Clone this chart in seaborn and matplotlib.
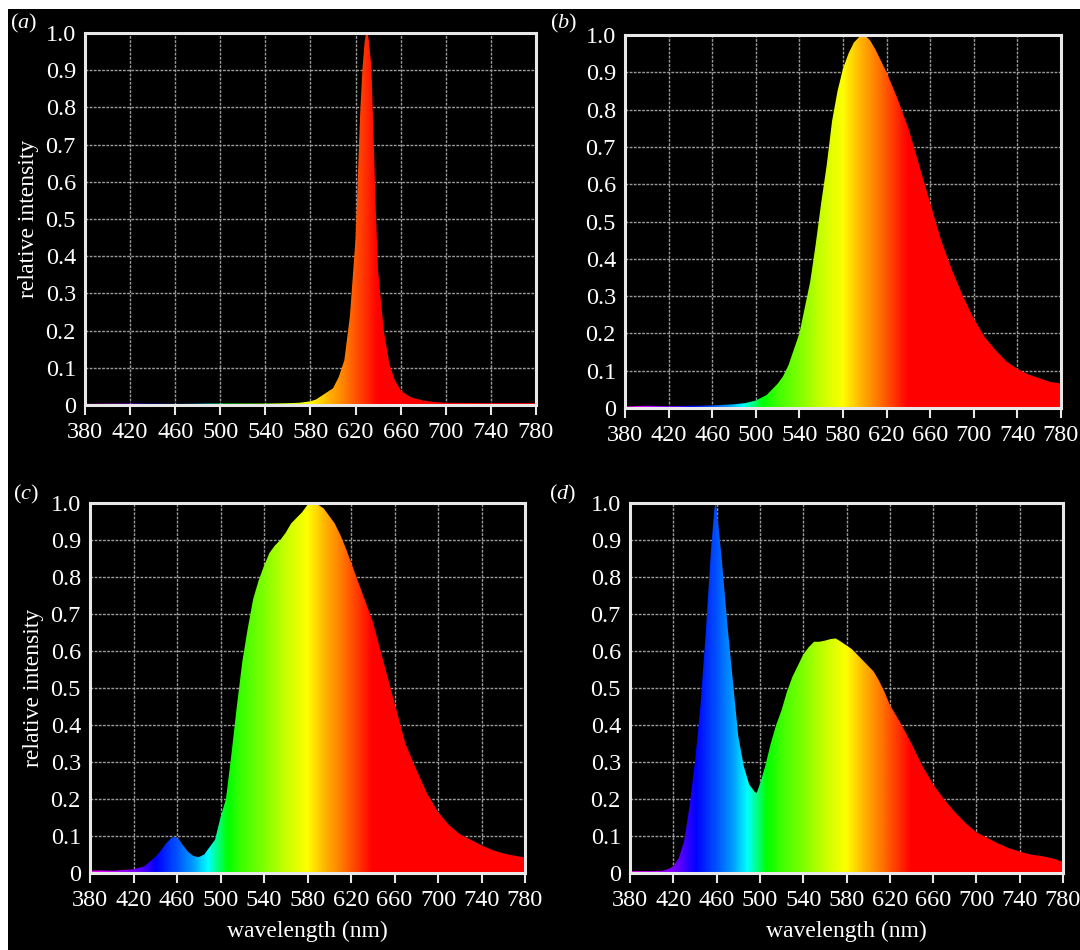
import numpy as np
import matplotlib.pyplot as plt
import seaborn as sns
from matplotlib.colors import LinearSegmentedColormap
from matplotlib.patches import Rectangle
from matplotlib.ticker import FuncFormatter

# (a) red LED
wl_a = [380, 420, 460, 500, 540, 560, 570, 580, 585, 590, 595, 600, 605, 610, 615, 620, 624, 626,
        628, 629, 630, 631, 632, 634, 636, 638, 640, 645, 650, 655, 660, 665, 670, 680, 690, 700,
        740, 780]
int_a = [0.003, 0.004, 0.003, 0.004, 0.004, 0.005, 0.006, 0.01, 0.015, 0.025, 0.035, 0.045, 0.075,
         0.12, 0.24, 0.45, 0.78, 0.9, 0.975, 0.995, 1.0, 0.995, 0.975, 0.91, 0.72, 0.52, 0.36,
         0.2, 0.11, 0.065, 0.04, 0.028, 0.02, 0.012, 0.008, 0.006, 0.005, 0.005]

# (b) amber / warm
wl_b = [380, 400, 420, 440, 460, 480, 490, 500, 510, 520, 525, 530, 540, 550, 555, 560, 565, 570,
        575, 580, 585, 590, 595, 600, 605, 610, 615, 620, 630, 640, 650, 660, 670, 680, 690, 700,
        710, 720, 730, 740, 750, 760, 770, 780]
int_b = [0.004, 0.006, 0.005, 0.006, 0.007, 0.01, 0.013, 0.02, 0.035, 0.065, 0.085, 0.115, 0.2,
         0.34, 0.44, 0.55, 0.65, 0.77, 0.85, 0.91, 0.95, 0.98, 0.995, 1.0, 0.985, 0.96, 0.93, 0.9,
         0.83, 0.75, 0.65, 0.55, 0.45, 0.37, 0.3, 0.24, 0.19, 0.155, 0.125, 0.105, 0.09, 0.08,
         0.07, 0.066]

# (c) warm white
wl_c = [380, 390, 400, 410, 420, 430, 440, 445, 450, 455, 458, 462, 465, 470, 475, 480, 485, 490,
        495, 500, 505, 510, 515, 520, 525, 530, 535, 540, 545, 550, 555, 560, 565, 570, 575, 580,
        585, 590, 595, 600, 605, 610, 615, 620, 625, 630, 640, 650, 660, 670, 680, 690, 700, 710,
        720, 730, 740, 750, 760, 770, 780]
int_c = [0.006, 0.007, 0.006, 0.008, 0.01, 0.018, 0.043, 0.06, 0.08, 0.095, 0.098, 0.09, 0.077,
         0.058, 0.046, 0.043, 0.05, 0.07, 0.09, 0.15, 0.2, 0.32, 0.45, 0.57, 0.66, 0.74, 0.79,
         0.83, 0.865, 0.885, 0.9, 0.92, 0.945, 0.96, 0.975, 0.995, 1.0, 0.995, 0.985, 0.965,
         0.945, 0.915, 0.88, 0.84, 0.8, 0.76, 0.68, 0.57, 0.46, 0.35, 0.28, 0.215, 0.165, 0.13,
         0.105, 0.09, 0.075, 0.062, 0.053, 0.047, 0.042]

# (d) cool white
wl_d = [380, 390, 400, 410, 415, 420, 425, 430, 435, 440, 445, 450, 455, 458, 459, 460, 462, 465,
        470, 475, 480, 485, 490, 495, 497, 500, 505, 510, 515, 520, 525, 530, 535, 540, 545, 550,
        555, 560, 565, 570, 575, 580, 585, 590, 595, 600, 605, 610, 615, 620, 630, 640, 650, 660,
        670, 680, 690, 700, 710, 720, 730, 740, 750, 760, 770, 780]
int_d = [0.005, 0.005, 0.005, 0.006, 0.01, 0.018, 0.04, 0.085, 0.18, 0.3, 0.45, 0.65, 0.88, 0.985,
         1.0, 0.985, 0.93, 0.84, 0.67, 0.52, 0.37, 0.29, 0.24, 0.22, 0.216, 0.24, 0.29, 0.35, 0.4,
         0.44, 0.49, 0.53, 0.56, 0.59, 0.61, 0.625, 0.625, 0.628, 0.632, 0.634, 0.625, 0.615,
         0.605, 0.59, 0.575, 0.56, 0.545, 0.52, 0.49, 0.455, 0.405, 0.35, 0.29, 0.24, 0.2, 0.165,
         0.135, 0.11, 0.095, 0.08, 0.067, 0.058, 0.05, 0.046, 0.04, 0.03]

panels = [("a", wl_a, int_a), ("b", wl_b, int_b), ("c", wl_c, int_c), ("d", wl_d, int_d)]
wl_ticks = list(range(380, 781, 40))
int_ticks = [round(0.1 * k, 1) for k in range(11)]

# wavelength -> colour stops
stop_wl = [380, 405, 425, 440, 460, 475, 488, 496, 506, 520, 540, 560, 580, 590, 600, 610, 620, 630, 640, 780]
stop_col = ["#ff00ff", "#b000ff", "#6000ff", "#0000ff", "#0055ff", "#00a0ff", "#00ffff", "#00ff90",
            "#00ff00", "#40ff00", "#80ff00", "#c8ff00", "#ffff00", "#ffd000", "#ffa500", "#ff8000",
            "#ff5500", "#ff2a00", "#ff0000", "#ff0000"]
spec = LinearSegmentedColormap.from_list(
    "spec", [((w - 380) / 400, c) for w, c in zip(stop_wl, stop_col)])

sns.set_theme(style="dark", rc={"axes.facecolor": "black", "figure.facecolor": "white"})
plt.rcParams["font.family"] = ["Liberation Serif", "DejaVu Serif"]
plt.rcParams["mathtext.fontset"] = "custom"
plt.rcParams["mathtext.it"] = "Liberation Serif:italic"
plt.rcParams["mathtext.rm"] = "Liberation Serif"

W, H = 1080, 950
fig = plt.figure(figsize=(W / 100, H / 100), dpi=100, facecolor="white")
fig.add_artist(Rectangle((8 / W, 0), 1, 1 - 9 / H, transform=fig.transFigure,
                         facecolor="black", edgecolor="none", zorder=-10))

# axes boxes in pixels: left, top, right, bottom
boxes = [(85, 33, 536, 405), (625, 35, 1061, 408), (90, 503, 525, 873), (630, 503, 1063, 873)]
label_xy = [(10, 12), (550, 12), (13, 483), (549, 483)]

for i, ((tag, wl, val), (l, t, r, b)) in enumerate(zip(panels, boxes)):
    ax = fig.add_axes([l / W, 1 - b / H, (r - l) / W, (b - t) / H], facecolor="black")
    sns.lineplot(x=wl, y=val, ax=ax, linewidth=0)
    poly = ax.fill_between(wl, 0, val, facecolor="none", edgecolor="none")
    grad = np.linspace(380, 780, 800).reshape(1, -1)
    im = ax.imshow(grad, cmap=spec, vmin=380, vmax=780, extent=[380, 780, 0, 1],
                   aspect="auto", origin="lower", zorder=2, interpolation="bilinear")
    im.set_clip_path(poly.get_paths()[0], ax.transData)

    ax.set_xlim(380, 780)
    ax.set_ylim(0, 1)
    ax.set_xticks(wl_ticks)
    ax.set_yticks(int_ticks)
    ax.yaxis.set_major_formatter(FuncFormatter(lambda v, p: "0" if abs(v) < 1e-9 else f"{v:.1f}"))
    ax.grid(True, color="#9a9a9a", linewidth=1.0, linestyle=(0, (2, 1)))
    ax.set_axisbelow(True)
    for sp in ax.spines.values():
        sp.set_visible(True)
        sp.set_color("#e8e8e8")
        sp.set_linewidth(2.2)
        sp.set_zorder(5)
    ax.tick_params(axis="x", colors="#e8e8e8", labelcolor="white", labelsize=17.5, length=7,
                   width=1.5, direction="out", pad=5, bottom=True)
    ax.tick_params(axis="y", colors="white", labelsize=17.5, length=0, pad=6.5)

    ax.set_xlabel("wavelength (nm)" if i >= 2 else "", color="white", fontsize=17, labelpad=7)
    ax.set_ylabel("relative intensity" if i % 2 == 0 else "", color="white", fontsize=17, labelpad=5)

    fig.text(label_xy[i][0] / W, 1 - label_xy[i][1] / H, rf"($\it{{{tag}}}$)",
             color="white", fontsize=16, ha="left", va="top")

fig.savefig("out.png", dpi=100, facecolor=fig.get_facecolor())
